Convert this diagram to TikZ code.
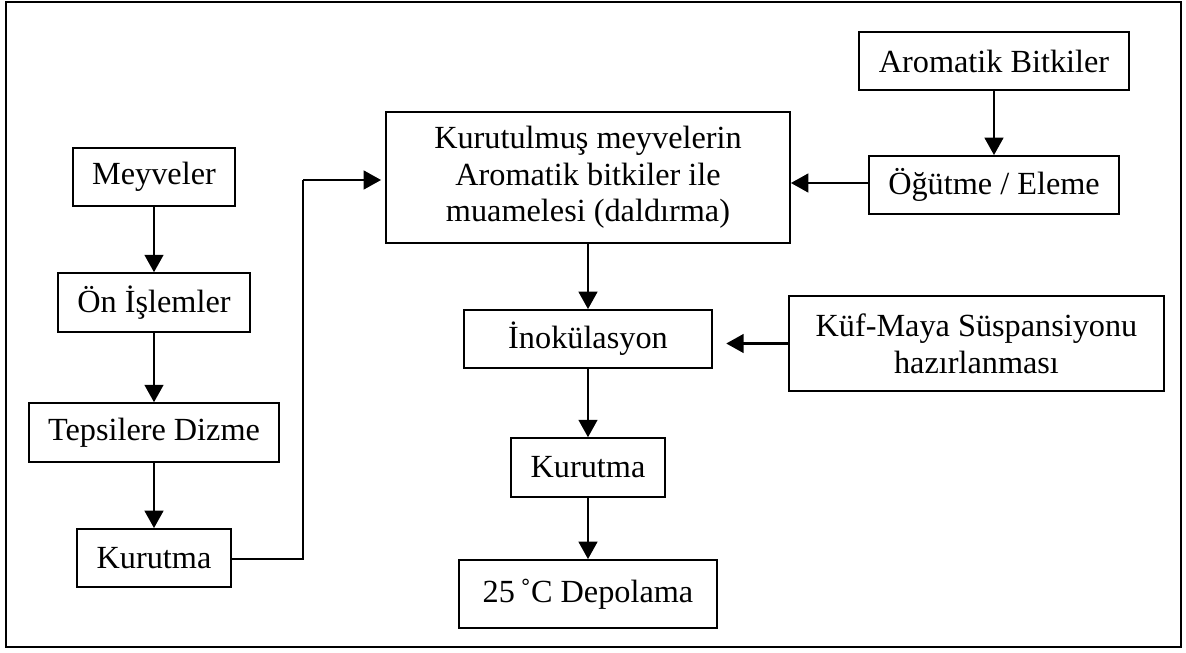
\documentclass[tikz,border=0pt]{standalone}
\usepackage{fontspec}
\setmainfont{Liberation Serif}
\usepackage{tikz}
\usetikzlibrary{positioning,arrows.meta}
\tikzset{
  flowarrow/.style={-{Triangle[length=13pt,width=14pt]}, line width=1.7pt},
  plainline/.style={line width=1.1pt},
  stepbox/.style={draw, line width=1.4pt, inner sep=0pt, align=center},
  frame/.style={draw, line width=2.1pt}
}

\begin{document}
\begin{tikzpicture}[x=0.75pt, y=-0.75pt, every node/.style={font=\fontsize{24.2}{27.5}\selectfont}]
  \useasboundingbox (0,0) rectangle (1186,653);
  \draw[frame] (6,2) rectangle (1181,647);
  % left column
  \node[stepbox, minimum width=122pt, minimum height=43.5pt] (meyve) at (154,177) {Meyveler};
  \node[stepbox, minimum width=144pt, minimum height=44pt] (onisl) at (154,302.5) {Ön İşlemler};
  \node[stepbox, minimum width=187.5pt, minimum height=44pt] (tepsi) at (154,432.5) {Tepsilere Dizme};
  \node[stepbox, minimum width=116pt, minimum height=43.5pt] (kurut1) at (154,558) {Kurutma};
  % middle column
  \node[stepbox, minimum width=303pt, minimum height=98pt] (muamele) at (588,177.5) {Kurutulmuş meyvelerin\\Aromatik bitkiler ile\\muamelesi (daldırma)};
  \node[stepbox, minimum width=186pt, minimum height=43.5pt] (inok) at (588,339) {İnokülasyon};
  \node[stepbox, minimum width=116pt, minimum height=44pt] (kurut2) at (588,467.5) {Kurutma};
  \node[stepbox, minimum width=193.5pt, minimum height=51pt] (depo) at (588,594) {25\,˚C Depolama};
  % right column
  \node[stepbox, minimum width=202.5pt, minimum height=43.5pt] (arobit) at (994,61) {Aromatik Bitkiler};
  \node[stepbox, minimum width=188pt, minimum height=43.5pt] (ogutme) at (994,185) {Öğütme / Eleme};
  \node[stepbox, minimum width=281pt, minimum height=71pt] (kufmaya) at (976.5,343.5) {Küf-Maya Süspansiyonu\\hazırlanması};
  % connectors
  \draw[flowarrow] (meyve) -- (onisl);
  \draw[flowarrow] (onisl) -- (tepsi);
  \draw[flowarrow] (tepsi) -- (kurut1);
  \coordinate (bendlow) at (303,559);
  \coordinate (bendup) at (303,180);
  \draw[plainline] (kurut1.east |- bendlow) -- (bendlow) -- (bendup);
  \draw[flowarrow, shorten >=3pt] (bendup) -- (bendup -| muamele.west);
  \draw[flowarrow] (arobit) -- (ogutme);
  \draw[flowarrow] (ogutme.west |- 0,183) -- (muamele.east |- 0,183);
  \draw[flowarrow] (muamele) -- (inok);
  \draw[flowarrow, shorten >=10pt] (kufmaya.west) -- (kufmaya.west -| inok.east);
  \draw[flowarrow] (inok) -- (kurut2);
  \draw[flowarrow] (kurut2) -- (depo);
\end{tikzpicture}
\end{document}
